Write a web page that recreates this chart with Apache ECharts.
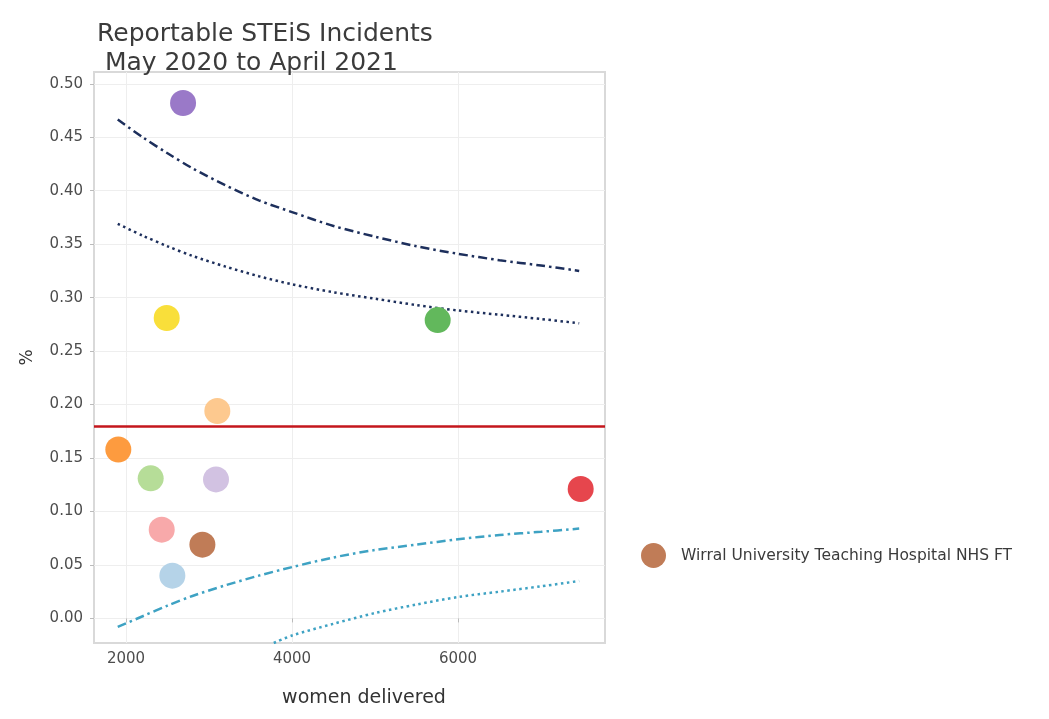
<!DOCTYPE html>
<html>
<head>
<meta charset="utf-8">
<title>Reportable STEiS Incidents</title>
<script src="https://cdn.jsdelivr.net/npm/echarts@6/dist/echarts.min.js"></script>
<style>
  html, body { margin: 0; padding: 0; background: #fff; }
  #chart { width: 1049px; height: 719px; }
</style>
</head>
<body>
<div id="chart"></div>
<script>
// trusts (unnamed in the legend)
const delivered = [2687, 2490, 5755, 3100, 1907, 2297, 3084, 7478, 2430, 2558]
const incidentPct = [0.482, 0.281, 0.279, 0.194, 0.158, 0.131, 0.130, 0.121, 0.083, 0.040]
const pointColors = ['#9a79c8', '#f9df3a', '#62b85c', '#fdc98f', '#fd9b3f', '#b6dd98',
  '#d2c2e2', '#e6464d', '#f8a9aa', '#b5d3e8']

// highlighted trust
const wirralName = 'Wirral University Teaching Hospital NHS FT'
const wirralDelivered = [2920]
const wirralPct = [0.069]

// mean rate
const meanPct = 0.18

// funnel limits
const limitX = [1900, 2200, 2500, 2800, 3200, 3600, 4000, 4500, 5000, 5500, 6000, 6500, 7000, 7460]
const upperOuter = [0.4665, 0.450, 0.435, 0.421, 0.405, 0.391, 0.380, 0.367, 0.357, 0.348, 0.341, 0.335, 0.330, 0.325]
const upperInner = [0.369, 0.358, 0.348, 0.339, 0.329, 0.320, 0.3125, 0.305, 0.299, 0.293, 0.288, 0.284, 0.280, 0.276]
const lowerInner = [-0.008, 0.002, 0.012, 0.021, 0.031, 0.040, 0.048, 0.057, 0.064, 0.069, 0.074, 0.078, 0.081, 0.084]
const lowerOuterX = [3780, 4000, 4500, 5000, 5500, 6000, 6500, 7000, 7460]
const lowerOuter = [-0.023, -0.016, -0.005, 0.005, 0.013, 0.020, 0.025, 0.030, 0.035]

// tick labels
const xTicks = [2000, 4000, 6000]
const yTicks = [0, 0.05, 0.10, 0.15, 0.20, 0.25, 0.30, 0.35, 0.40, 0.45, 0.50]

const FONT = 'DejaVu Sans'
const zip = (xs, ys) => xs.map((x, i) => [x, ys[i]])

const chart = echarts.init(document.getElementById('chart'))

function limitLine(xs, ys, color, dash) {
  return {
    type: 'line',
    data: zip(xs, ys),
    smooth: 0.3,
    symbol: 'none',
    silent: true,
    z: 3,
    lineStyle: { color: color, width: 2.5, type: dash, cap: 'butt' }
  }
}

const dashDot = [9, 4, 2.5, 4]
const dotted = [2.5, 3.5]

chart.setOption({
  animation: false,
  title: {
    text: 'Reportable STEiS Incidents\n May 2020 to April 2021',
    left: 92,
    top: 15,
    textStyle: {
      fontFamily: FONT,
      fontSize: 25,
      fontWeight: 'normal',
      lineHeight: 29,
      color: '#3b3b3b'
    }
  },
  legend: {
    data: [wirralName],
    left: 636,
    top: 538,
    icon: 'circle',
    itemWidth: 25,
    itemHeight: 25,
    textStyle: {
      fontFamily: FONT,
      fontSize: 15.5,
      color: '#3b3b3b',
      padding: [0, 0, 0, 10]
    }
  },
  grid: {
    left: 94,
    right: 444,
    top: 72,
    bottom: 76,
    show: true,
    borderColor: '#d9d9d9',
    borderWidth: 2,
    backgroundColor: '#fff'
  },
  xAxis: {
    type: 'value',
    min: 1614,
    max: 7771,
    name: 'women delivered',
    nameLocation: 'middle',
    nameGap: 46,
    nameTextStyle: { fontFamily: FONT, fontSize: 19, color: '#333', padding: [0, 0, 0, 29] },
    axisLine: { show: false },
    axisTick: { show: true, length: 4, customValues: xTicks, lineStyle: { color: '#bbb' } },
    axisLabel: {
      customValues: xTicks,
      margin: 9,
      fontFamily: FONT,
      fontSize: 15,
      color: '#4d4d4d',
      formatter: v => String(v)
    },
    splitLine: { show: true, lineStyle: { color: '#eeeeee', width: 1 } }
  },
  yAxis: {
    type: 'value',
    min: -0.023,
    max: 0.511,
    name: '%',
    nameLocation: 'middle',
    nameGap: 58,
    nameTextStyle: { fontFamily: FONT, fontSize: 17, color: '#333' },
    axisLine: { show: false },
    axisTick: { show: true, length: 4, customValues: yTicks, lineStyle: { color: '#bbb' } },
    axisLabel: {
      customValues: yTicks,
      margin: 11,
      fontFamily: FONT,
      fontSize: 15,
      color: '#4d4d4d',
      formatter: v => v.toFixed(2)
    },
    splitLine: { show: true, lineStyle: { color: '#eeeeee', width: 1 } }
  },
  series: [
    limitLine(limitX, upperOuter, '#1d2f5c', dashDot),
    limitLine(limitX, upperInner, '#1d2f5c', dotted),
    limitLine(limitX, lowerInner, '#3ea2c3', dashDot),
    limitLine(lowerOuterX, lowerOuter, '#3ea2c3', dotted),
    {
      type: 'line',
      name: 'mean',
      data: [],
      silent: true,
      markLine: {
        symbol: 'none',
        silent: true,
        label: { show: false },
        lineStyle: { color: '#c4161c', width: 2.5, type: 'solid' },
        data: [{ yAxis: meanPct }]
      }
    },
    {
      type: 'scatter',
      name: 'trusts',
      symbolSize: 26,
      z: 4,
      itemStyle: { opacity: 1 },
      data: delivered.map((x, i) => ({
        value: [x, incidentPct[i]],
        itemStyle: { color: pointColors[i], opacity: 1 }
      }))
    },
    {
      type: 'scatter',
      name: wirralName,
      symbolSize: 26,
      z: 4,
      itemStyle: { color: '#c07c57', opacity: 1 },
      data: zip(wirralDelivered, wirralPct)
    }
  ]
})
</script>
</body>
</html>
